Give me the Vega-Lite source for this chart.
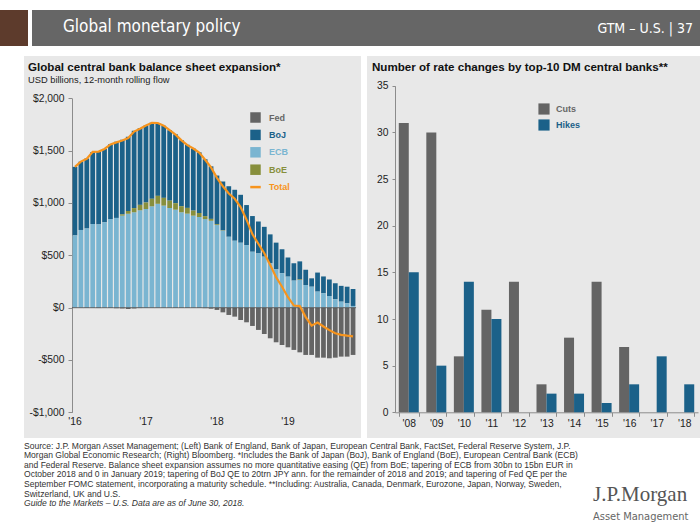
{
  "$schema": "https://vega.github.io/schema/vega-lite/v6.json",
  "background": "white",
  "padding": {"left": 0, "top": 10, "right": 0, "bottom": 0},
  "spacing": 0,
  "datasets": {
    "monthly": [
      {"m": "2016-01", "Fed": 0, "BoJ": 655, "ECB": 690, "BoE": 0, "Total": 1345},
      {"m": "2016-02", "Fed": 0, "BoJ": 653, "ECB": 742, "BoE": 0, "Total": 1395},
      {"m": "2016-03", "Fed": -3, "BoJ": 669, "ECB": 756, "BoE": 0, "Total": 1422},
      {"m": "2016-04", "Fed": 0, "BoJ": 688, "ECB": 800, "BoE": 0, "Total": 1488},
      {"m": "2016-05", "Fed": -4, "BoJ": 700, "ECB": 795, "BoE": 0, "Total": 1491},
      {"m": "2016-06", "Fed": 0, "BoJ": 701, "ECB": 815, "BoE": 0, "Total": 1516},
      {"m": "2016-07", "Fed": -3, "BoJ": 715, "ECB": 847, "BoE": 0, "Total": 1559},
      {"m": "2016-08", "Fed": -6, "BoJ": 728, "ECB": 857, "BoE": 0, "Total": 1579},
      {"m": "2016-09", "Fed": -8, "BoJ": 713, "ECB": 879, "BoE": 12, "Total": 1596},
      {"m": "2016-10", "Fed": -12, "BoJ": 709, "ECB": 898, "BoE": 25, "Total": 1620},
      {"m": "2016-11", "Fed": -8, "BoJ": 739, "ECB": 911, "BoE": 40, "Total": 1682},
      {"m": "2016-12", "Fed": -4, "BoJ": 732, "ECB": 930, "BoE": 52, "Total": 1710},
      {"m": "2017-01", "Fed": 0, "BoJ": 735, "ECB": 943, "BoE": 62, "Total": 1740},
      {"m": "2017-02", "Fed": 0, "BoJ": 726, "ECB": 968, "BoE": 72, "Total": 1766},
      {"m": "2017-03", "Fed": 0, "BoJ": 696, "ECB": 992, "BoE": 76, "Total": 1764},
      {"m": "2017-04", "Fed": 0, "BoJ": 689, "ECB": 975, "BoE": 74, "Total": 1738},
      {"m": "2017-05", "Fed": 0, "BoJ": 673, "ECB": 952, "BoE": 70, "Total": 1695},
      {"m": "2017-06", "Fed": -3, "BoJ": 658, "ECB": 936, "BoE": 62, "Total": 1653},
      {"m": "2017-07", "Fed": -2, "BoJ": 631, "ECB": 911, "BoE": 58, "Total": 1598},
      {"m": "2017-08", "Fed": -3, "BoJ": 603, "ECB": 898, "BoE": 55, "Total": 1553},
      {"m": "2017-09", "Fed": 0, "BoJ": 593, "ECB": 879, "BoE": 48, "Total": 1520},
      {"m": "2017-10", "Fed": -3, "BoJ": 580, "ECB": 866, "BoE": 38, "Total": 1481},
      {"m": "2017-11", "Fed": -5, "BoJ": 544, "ECB": 846, "BoE": 28, "Total": 1413},
      {"m": "2017-12", "Fed": -10, "BoJ": 502, "ECB": 830, "BoE": 18, "Total": 1340},
      {"m": "2018-01", "Fed": -22, "BoJ": 465, "ECB": 789, "BoE": 8, "Total": 1240},
      {"m": "2018-02", "Fed": -45, "BoJ": 467, "ECB": 735, "BoE": 3, "Total": 1160},
      {"m": "2018-03", "Fed": -70, "BoJ": 483, "ECB": 677, "BoE": 0, "Total": 1090},
      {"m": "2018-04", "Fed": -86, "BoJ": 487, "ECB": 639, "BoE": 0, "Total": 1040},
      {"m": "2018-05", "Fed": -118, "BoJ": 458, "ECB": 620, "BoE": 0, "Total": 960},
      {"m": "2018-06", "Fed": -140, "BoJ": 382, "ECB": 598, "BoE": 0, "Total": 840},
      {"m": "2018-07", "Fed": -175, "BoJ": 341, "ECB": 534, "BoE": 0, "Total": 700},
      {"m": "2018-08", "Fed": -213, "BoJ": 305, "ECB": 518, "BoE": 0, "Total": 610},
      {"m": "2018-09", "Fed": -252, "BoJ": 285, "ECB": 487, "BoE": 0, "Total": 520},
      {"m": "2018-10", "Fed": -293, "BoJ": 277, "ECB": 423, "BoE": 0, "Total": 407},
      {"m": "2018-11", "Fed": -331, "BoJ": 255, "ECB": 366, "BoE": 0, "Total": 290},
      {"m": "2018-12", "Fed": -357, "BoJ": 229, "ECB": 328, "BoE": 0, "Total": 200},
      {"m": "2019-01", "Fed": -379, "BoJ": 183, "ECB": 296, "BoE": 0, "Total": 100},
      {"m": "2019-02", "Fed": -404, "BoJ": 166, "ECB": 258, "BoE": 0, "Total": 20},
      {"m": "2019-03", "Fed": -427, "BoJ": 173, "ECB": 264, "BoE": 5, "Total": 15},
      {"m": "2019-04", "Fed": -452, "BoJ": 146, "ECB": 216, "BoE": 0, "Total": -90},
      {"m": "2019-05", "Fed": -452, "BoJ": 80, "ECB": 200, "BoE": 0, "Total": -172},
      {"m": "2019-06", "Fed": -478, "BoJ": 182, "ECB": 153, "BoE": 0, "Total": -143},
      {"m": "2019-07", "Fed": -478, "BoJ": 161, "ECB": 137, "BoE": 0, "Total": -180},
      {"m": "2019-08", "Fed": -484, "BoJ": 158, "ECB": 111, "BoE": 0, "Total": -215},
      {"m": "2019-09", "Fed": -478, "BoJ": 153, "ECB": 80, "BoE": 0, "Total": -245},
      {"m": "2019-10", "Fed": -468, "BoJ": 151, "ECB": 57, "BoE": 0, "Total": -260},
      {"m": "2019-11", "Fed": -468, "BoJ": 159, "ECB": 41, "BoE": 0, "Total": -268},
      {"m": "2019-12", "Fed": -452, "BoJ": 162, "ECB": 16, "BoE": 0, "Total": -274}
    ],
    "stackorder": [
      {"series": "ECB", "rank": 1},
      {"series": "BoE", "rank": 2},
      {"series": "BoJ", "rank": 3},
      {"series": "Fed", "rank": 4}
    ],
    "rates": [
      {"year": "'08", "type": "Cuts", "n": 31}, {"year": "'08", "type": "Hikes", "n": 15},
      {"year": "'09", "type": "Cuts", "n": 30}, {"year": "'09", "type": "Hikes", "n": 5},
      {"year": "'10", "type": "Cuts", "n": 6}, {"year": "'10", "type": "Hikes", "n": 14},
      {"year": "'11", "type": "Cuts", "n": 11}, {"year": "'11", "type": "Hikes", "n": 10},
      {"year": "'12", "type": "Cuts", "n": 14}, {"year": "'12", "type": "Hikes", "n": 0},
      {"year": "'13", "type": "Cuts", "n": 3}, {"year": "'13", "type": "Hikes", "n": 2},
      {"year": "'14", "type": "Cuts", "n": 8}, {"year": "'14", "type": "Hikes", "n": 2},
      {"year": "'15", "type": "Cuts", "n": 14}, {"year": "'15", "type": "Hikes", "n": 1},
      {"year": "'16", "type": "Cuts", "n": 7}, {"year": "'16", "type": "Hikes", "n": 3},
      {"year": "'17", "type": "Cuts", "n": 0}, {"year": "'17", "type": "Hikes", "n": 6},
      {"year": "'18", "type": "Cuts", "n": 0}, {"year": "'18", "type": "Hikes", "n": 3}
    ]
  },
  "vconcat": [
    {
      "hconcat": [
        {
          "width": 28, "height": 36,
          "view": {"fill": "#5d3b2c", "stroke": null},
          "data": {"values": []},
          "mark": "point"
        },
        {
          "width": 4, "height": 36,
          "view": {"fill": "white", "stroke": null},
          "data": {"values": []},
          "mark": "point"
        },
        {
          "width": 540, "height": 36,
          "view": {"fill": "#666666", "stroke": null},
          "data": {"values": []},
          "mark": "point",
          "title": {
            "text": "Global monetary policy", "anchor": "start", "frame": "group", "orient": "top",
            "offset": -26, "dx": 31, "color": "white", "fontSize": 17, "fontWeight": "normal",
            "font": "Liberation Sans Narrow, DejaVu Sans Condensed, sans-serif"
          }
        },
        {
          "width": 128, "height": 36,
          "view": {"fill": "#666666", "stroke": null},
          "data": {"values": []},
          "mark": "point",
          "title": {
            "text": "GTM – U.S.  |  37", "anchor": "end", "frame": "group", "orient": "top",
            "offset": -26, "dx": -7, "color": "white", "fontSize": 14, "fontWeight": "normal",
            "font": "Liberation Sans Narrow, DejaVu Sans Condensed, sans-serif"
          }
        }
      ],
      "spacing": 0,
      "bounds": "flush"
    },
    {
      "width": 700, "height": 10,
      "view": {"fill": "white", "stroke": null},
      "data": {"values": []},
      "mark": "point"
    },
    {
      "hconcat": [
        {
          "width": 18, "height": 382,
          "view": {"fill": "white", "stroke": null},
          "data": {"values": []},
          "mark": "point"
        },
        {
          "width": 337, "height": 382,
          "view": {"fill": "#e8e8e8", "stroke": null},
          "title": {
            "text": "Global central bank balance sheet expansion*",
            "subtitle": "USD billions, 12-month rolling flow",
            "anchor": "start", "frame": "group", "orient": "top", "offset": -29, "dx": 4,
            "fontSize": 11.6, "fontWeight": "bold", "color": "#111111",
            "subtitleFontSize": 9.3, "subtitleColor": "#222222", "subtitlePadding": 2,
            "font": "Liberation Sans", "subtitleFont": "Liberation Sans"
          },
          "data": {"name": "monthly"},
          "layer": [
            {
              "transform": [
                {"fold": ["Fed", "BoJ", "ECB", "BoE"], "as": ["series", "v"]},
                {"lookup": "series", "from": {"data": {"name": "stackorder"}, "key": "series", "fields": ["rank"]}}
              ],
              "mark": {"type": "bar"},
              "encoding": {
                "x": {
                  "field": "m", "type": "ordinal",
                  "scale": {"range": [48, 332], "paddingInner": 0.2, "paddingOuter": 0.1},
                  "axis": {
                    "values": ["2016-01", "2017-01", "2018-01", "2019-01"],
                    "labelExpr": "\"'\" + substring(datum.value, 2, 4)",
                    "labelAngle": 0, "domain": false, "ticks": false, "title": null,
                    "offset": -25.7, "labelPadding": 4
                  }
                },
                "y": {
                  "field": "v", "type": "quantitative", "stack": "zero",
                  "scale": {"domain": [-1000, 2000], "range": [356.3, 42.3], "nice": false, "zero": false},
                  "axis": {
                    "values": [-1000, -500, 0, 500, 1000, 1500, 2000],
                    "labelExpr": "datum.value < 0 ? '-$' + format(-datum.value, ',') : '$' + format(datum.value, ',')",
                    "offset": -48, "title": null, "grid": false,
                    "domainColor": "#8c8c8c", "tickColor": "#8c8c8c", "tickSize": 4, "labelPadding": 4
                  }
                },
                "color": {
                  "field": "series", "type": "nominal",
                  "scale": {
                    "domain": ["Fed", "BoJ", "ECB", "BoE", "Total"],
                    "range": ["#646464", "#1b6189", "#7ab5d1", "#878f3c", "#f7941d"]
                  },
                  "legend": {
                    "orient": "none", "legendX": 227, "legendY": 57, "title": null,
                    "symbolType": "square", "symbolSize": 110, "symbolStrokeWidth": 0,
                    "labelFontSize": 9, "labelFontWeight": "bold", "labelOffset": 9,
                    "rowPadding": 6.4, "padding": 0,
                    "encode": {
                      "symbols": {
                        "update": {
                          "shape": {"signal": "datum.value === 'Total' ? 'stroke' : 'square'"},
                          "stroke": {"signal": "datum.value === 'Total' ? '#f7941d' : 'transparent'"},
                          "strokeWidth": {"signal": "datum.value === 'Total' ? 2.5 : 0"}
                        }
                      },
                      "labels": {
                        "update": {
                          "fill": {"signal": "datum.value === 'Fed' ? '#666666' : datum.value === 'BoJ' ? '#1b6189' : datum.value === 'ECB' ? '#7ab5d1' : datum.value === 'BoE' ? '#878f3c' : '#f7941d'"}
                        }
                      }
                    }
                  }
                },
                "order": {"field": "rank", "type": "quantitative"}
              }
            },
            {
              "mark": {"type": "tick", "orient": "horizontal", "thickness": 1.2, "size": 6, "color": "#4d4d4d"},
              "encoding": {
                "x": {"field": "m", "type": "ordinal"},
                "y": {"datum": 0}
              }
            },
            {
              "mark": {"type": "line", "strokeWidth": 2.2},
              "encoding": {
                "x": {"field": "m", "type": "ordinal", "bandPosition": 0.5},
                "y": {"field": "Total", "type": "quantitative"},
                "color": {"datum": "Total"}
              }
            }
          ]
        },
        {
          "width": 333, "height": 382,
          "view": {"fill": "#e8e8e8", "stroke": null},
          "title": {
            "text": "Number of rate changes by top-10 DM central banks**",
            "anchor": "start", "frame": "group", "orient": "top", "offset": -18, "dx": 5,
            "fontSize": 11.6, "fontWeight": "bold", "color": "#111111", "font": "Liberation Sans"
          },
          "data": {"name": "rates"},
          "mark": {"type": "bar"},
          "encoding": {
            "x": {
              "field": "year", "type": "ordinal",
              "scale": {"range": [28, 331], "paddingInner": 0.274, "paddingOuter": 0.137},
              "axis": {
                "labelAngle": 0, "tickBand": "extent", "title": null, "offset": -25.7,
                "domainColor": "#8c8c8c", "tickColor": "#8c8c8c", "tickSize": 4, "labelPadding": 2
              }
            },
            "xOffset": {"field": "type", "type": "nominal", "sort": ["Cuts", "Hikes"]},
            "y": {
              "field": "n", "type": "quantitative",
              "scale": {"domain": [0, 35], "range": [356.3, 29.8], "nice": false},
              "axis": {
                "values": [0, 5, 10, 15, 20, 25, 30, 35],
                "offset": -28, "title": null, "grid": false,
                "domainColor": "#8c8c8c", "tickColor": "#8c8c8c", "tickSize": 3, "labelPadding": 4
              }
            },
            "color": {
              "field": "type", "type": "nominal",
              "scale": {"domain": ["Cuts", "Hikes"], "range": ["#646464", "#1b6189"]},
              "legend": {
                "orient": "none", "legendX": 171, "legendY": 47, "title": null,
                "symbolType": "square", "symbolSize": 125, "symbolStrokeWidth": 0,
                "labelFontSize": 9, "labelFontWeight": "bold", "labelOffset": 6,
                "rowPadding": 4, "padding": 0,
                "encode": {
                  "labels": {
                    "update": {
                      "fill": {"signal": "datum.value === 'Cuts' ? '#666666' : '#1b6189'"}
                    }
                  }
                }
              }
            }
          }
        }
      ],
      "spacing": 6,
      "bounds": "flush",
      "resolve": {
        "scale": {"color": "independent", "x": "independent", "y": "independent"},
        "legend": {"color": "independent"}
      }
    },
    {
      "hconcat": [
        {
          "width": 592, "height": 87,
          "view": {"fill": "white", "stroke": null},
          "data": {"values": []},
          "mark": "point",
          "title": {
            "text": [
              "Source: J.P. Morgan Asset Management; (Left) Bank of England, Bank of Japan, European Central Bank, FactSet, Federal Reserve System, J.P.",
              "Morgan Global Economic Research; (Right) Bloomberg. *Includes the Bank of Japan (BoJ), Bank of England (BoE), European Central Bank (ECB)",
              "and Federal Reserve. Balance sheet expansion assumes no more quantitative easing (QE) from BoE; tapering of ECB from 30bn to 15bn EUR in",
              "October 2018 and 0 in January 2019; tapering of BoJ QE to 20trn JPY ann. for the remainder of 2018 and 2019; and tapering of Fed QE per the",
              "September FOMC statement, incorporating a maturity schedule. **Including: Australia, Canada, Denmark, Eurozone, Japan, Norway, Sweden,",
              "Switzerland, UK and U.S."
            ],
            "subtitle": "Guide to the Markets – U.S. Data are as of June 30, 2018.",
            "anchor": "start", "frame": "group", "orient": "top", "offset": -70, "dx": 24,
            "fontSize": 8.55, "lineHeight": 9.6, "fontWeight": "normal", "color": "#333333",
            "font": "Liberation Sans",
            "subtitleFont": "Liberation Sans", "subtitleFontSize": 8.55, "subtitleFontStyle": "italic",
            "subtitleColor": "#333333", "subtitlePadding": 1.2
          }
        },
        {
          "width": 102, "height": 87,
          "view": {"fill": "white", "stroke": null},
          "data": {"values": []},
          "mark": "point",
          "title": {
            "text": "J.P.Morgan",
            "subtitle": "Asset Management",
            "anchor": "start", "frame": "group", "orient": "top", "offset": -84, "dx": -5,
            "fontSize": 21, "fontWeight": "normal", "color": "#555555",
            "font": "Liberation Serif, DejaVu Serif, serif",
            "subtitleFont": "Liberation Sans Narrow, DejaVu Sans Condensed, sans-serif",
            "subtitleFontSize": 11, "subtitleColor": "#666666", "subtitlePadding": 6
          }
        }
      ],
      "spacing": 6,
      "bounds": "flush"
    }
  ],
  "config": {
    "font": "Liberation Sans",
    "view": {"stroke": null},
    "axis": {
      "labelFont": "Liberation Sans", "labelFontSize": 10.3, "labelColor": "#222222", "grid": false
    },
    "legend": {"labelFont": "Liberation Sans"}
  }
}
